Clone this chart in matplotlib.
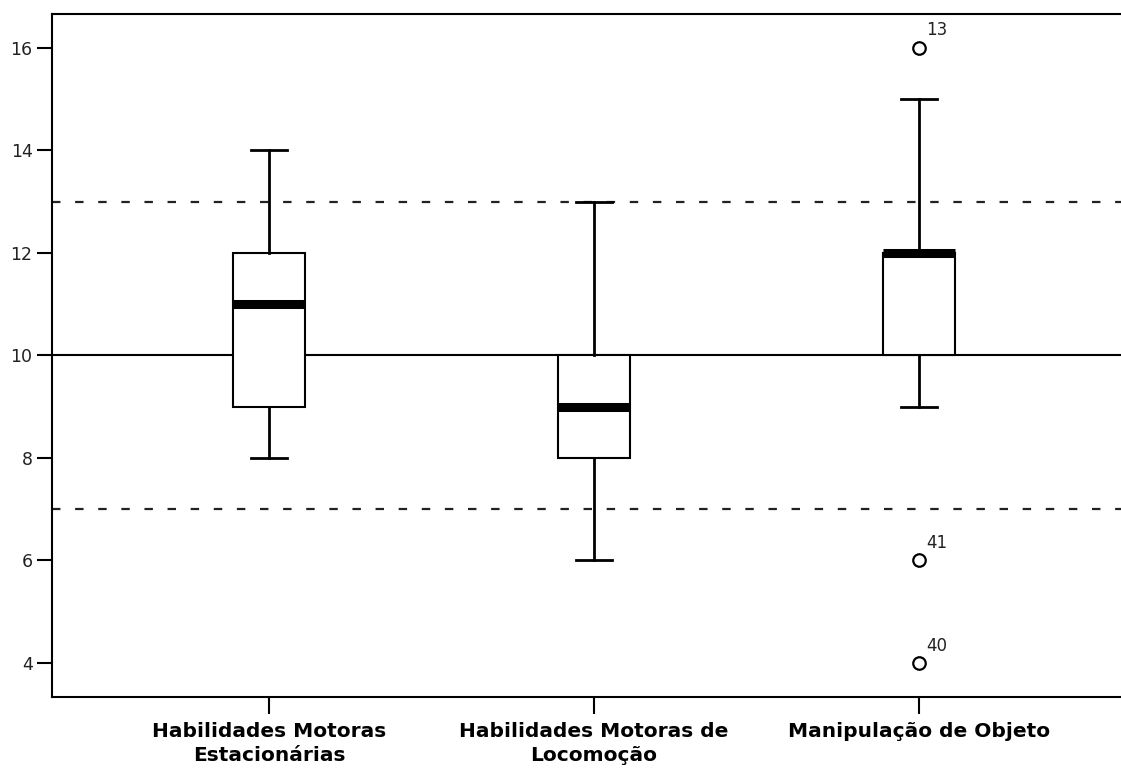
import matplotlib.pyplot as plt

plt.rcParams['font.family'] = ['DejaVu Sans']

categorias = ['Habilidades Motoras\nEstacionárias', 'Habilidades Motoras de\nLocomoção', 'Manipulação de Objeto']
minimo = [8, 6, 9]
q1 = [9, 8, 10]
mediana = [11, 9, 12]
q3 = [12, 10, 12]
maximo = [14, 13, 15]
outliers_valor = [16, 6, 4]
outliers_id = ['13', '41', '40']
outliers_grupo = [3, 3, 3]
ref_media = 10
ref_limites = [7, 13]

fig = plt.figure(figsize=(11.21, 7.69), dpi=100)
ax = fig.add_axes([0.0464, 0.0936, 0.9536, 0.8882])

stats = []
for i in range(len(categorias)):
    stats.append({'whislo': minimo[i], 'q1': q1[i], 'med': mediana[i],
                  'q3': q3[i], 'whishi': maximo[i], 'fliers': []})

# linha da média e limites
ax.axhline(ref_media, color='black', lw=1.5, zorder=1)
for y in ref_limites:
    ax.axhline(y, color='#222222', lw=1.6, dashes=(3.8, 6.6), zorder=1)

ax.bxp(stats, positions=[1, 2, 3], widths=0.22, patch_artist=True,
       boxprops=dict(facecolor='white', edgecolor='black', lw=1.5),
       medianprops=dict(color='black', lw=6.5),
       whiskerprops=dict(color='black', lw=2),
       capprops=dict(color='black', lw=2),
       capwidths=0.11, zorder=3)

for g, v, lab in zip(outliers_grupo, outliers_valor, outliers_id):
    ax.plot(g, v, 'o', ms=9, mfc='none', mec='black', mew=1.6, zorder=4)
    ax.annotate(lab, (g, v), xytext=(5, 6), textcoords='offset points',
                fontsize=12, ha='left', va='bottom', color='#222222')

ax.set_xlim(0.332, 3.622)
ax.set_ylim(3.337, 16.66)
ax.set_yticks([4, 6, 8, 10, 12, 14, 16])
ax.set_xticks([1, 2, 3])
ax.set_xticklabels(categorias, fontsize=14.5, fontweight='bold', linespacing=1.3)
ax.tick_params(axis='y', labelsize=12.5, length=11, width=1.5, pad=3,
               labelcolor='#222222')
ax.tick_params(axis='x', length=12, width=1.5, pad=6)
ax.spines['right'].set_visible(False)
for s in ['left', 'top', 'bottom']:
    ax.spines[s].set_linewidth(1.5)

fig.savefig('out.png', dpi=100)
